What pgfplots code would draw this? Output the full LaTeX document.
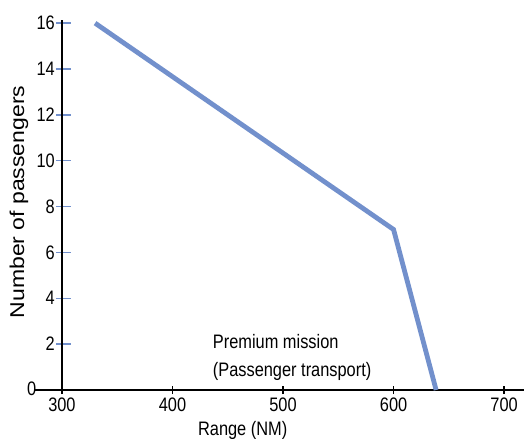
\documentclass[border=0pt]{standalone}
\usepackage{pgfplots}
\pgfplotsset{compat=1.18}
\usepackage{fontspec}
\setmainfont[FakeStretch=0.84]{Liberation Sans}
\newfontfamily\ylabfont[FakeStretch=1.15]{Liberation Sans}
\definecolor{lineblue}{RGB}{114,144,204}

\begin{document}
\begin{tikzpicture}[font=\fontsize{19.5bp}{23bp}\selectfont]
\begin{axis}[
    name=ax,
    scale only axis,
    width=488.6bp, height=370.3bp,
    xmin=276, xmax=718,
    ymin=0, ymax=16.15,
    axis x line=bottom,
    axis y line=none,
    axis line style={-, black, line width=1.3bp},
    xtick={300,400,...,700},
    ytick=\empty,
    tick style={black, line width=1.3bp},
    major tick length=8bp,
    tick align=center,
    /pgf/number format/assume math mode=true,
    xticklabel style={font=\fontsize{19.5bp}{23bp}\selectfont},
    clip mode=individual,
]
\addplot[color=lineblue, line width=4.8bp]
    coordinates {
        (330, 16) (600, 7) (638.5, 0)
    };

% y axis at x = 300 with blue ticks
\pgfplotsinvokeforeach{2,4,6,8,10,12,14,16}{
    \draw[lineblue, line width=1.3bp] ([xshift=-6bp]axis cs:300,#1) -- ([xshift=9bp]axis cs:300,#1);
    \node[anchor=east, inner sep=0pt] at ([xshift=-7bp]axis cs:300,#1) {#1};
}
\draw[black, line width=1.3bp] (axis cs:300,0) -- (axis cs:300,16.15);
\node[anchor=east, inner sep=0pt] at ([xshift=1bp]axis cs:276,0.05) {0};

\node[rotate=90, inner sep=0pt] at (axis cs:261.2,8.2)
    {\ylabfont\fontsize{20bp}{24bp}\selectfont Number of passengers};
\node[anchor=north, inner sep=0pt] at (axis cs:463.5,-1.35) {Range (NM)};

\node[anchor=base west, inner sep=0pt] at (axis cs:436.4,1.83) {Premium mission};
\node[anchor=base west, inner sep=0pt] at (axis cs:436.4,0.57) {(Passenger transport)};
\end{axis}
\pgfresetboundingbox
\path (ax.south west) ++(-35.4bp,-49bp) rectangle ++(525bp,439bp);
\end{tikzpicture}
\end{document}
